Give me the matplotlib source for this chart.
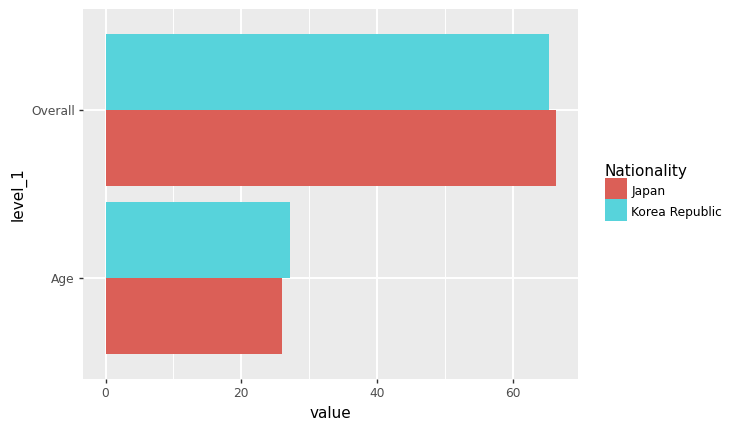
import numpy as np
import matplotlib.pyplot as plt
from matplotlib.patches import Patch, Rectangle
from matplotlib.legend_handler import HandlerPatch

categories = ["Age", "Overall"]
japan = [26.0, 66.3]
korea = [27.2, 65.3]
series_names = ["Japan", "Korea Republic"]
colors = ["#DB5F57", "#57D3DB"]


def full_key(legend, orig_handle, xdescent, ydescent, width, height, fontsize):
    # fill the whole key box like ggplot does
    return Rectangle((-xdescent, -ydescent), width, height + ydescent)


fig = plt.figure(figsize=(7.49, 4.30), dpi=100)
ax = fig.add_axes([83 / 749, 51 / 430, 495 / 749, 370 / 430])
ax.set_facecolor("#EBEBEB")

y = np.arange(1, len(categories) + 1)
h = 0.45
ax.barh(y - h / 2, japan, height=h, color=colors[0], zorder=3)
ax.barh(y + h / 2, korea, height=h, color=colors[1], zorder=3)

xmax = max(max(japan), max(korea))
ax.set_xlim(-0.05 * xmax, 1.05 * xmax)
ax.set_ylim(0.4, len(categories) + 0.6)

ax.set_xticks([0, 20, 40, 60])
ax.set_xticks([10, 30, 50], minor=True)
ax.set_yticks(y)
ax.set_yticklabels(categories)
ax.grid(which="major", color="white", linewidth=1.4, zorder=0)
ax.grid(which="minor", axis="x", color="white", linewidth=0.7, zorder=0)
for s in ax.spines.values():
    s.set_visible(False)
ax.tick_params(which="major", length=3, width=1, color="#333333",
               labelcolor="#4D4D4D", labelsize=8.8, pad=3)
ax.tick_params(which="minor", length=0)

ax.set_xlabel("value", fontsize=11, labelpad=4)
ax.set_ylabel("level_1", fontsize=11, labelpad=3)

handles = [Patch(facecolor=c, edgecolor="none") for c in colors]
fig.legend(handles, series_names, loc="upper left",
           bbox_to_anchor=(600 / 749, 1 - 159 / 430), frameon=False,
           fontsize=8.8, title="Nationality", title_fontsize=11,
           handlelength=1.8, handleheight=1.8, labelspacing=0.3,
           handletextpad=0.35, alignment="left", borderaxespad=0,
           handler_map={Patch: HandlerPatch(patch_func=full_key)})

fig.savefig("out.png", dpi=100)
